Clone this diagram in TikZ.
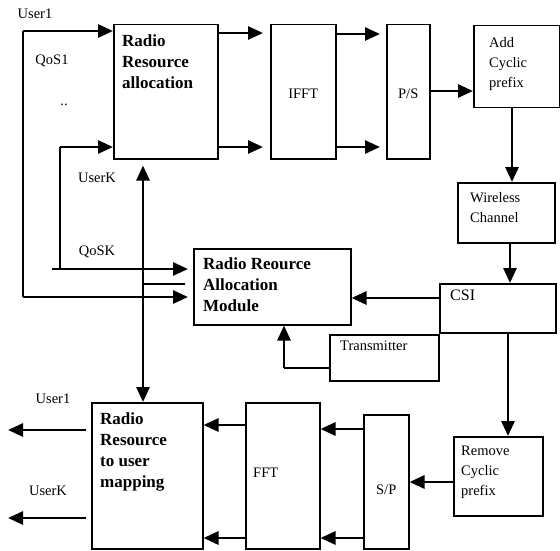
\documentclass[tikz,border=0pt]{standalone}
\usepackage{fontspec}
\setmainfont{Liberation Serif}
\usetikzlibrary{arrows.meta,positioning}

\tikzset{
  blk/.style={draw, line width=1.5pt, inner sep=0pt, anchor=north west},
  btxt/.style={font=\fontsize{17}{21}\selectfont\bfseries, align=left,
    inner sep=0pt, anchor=north west},
  ntxt/.style={font=\fontsize{14.5}{20}\selectfont, align=left, inner sep=0pt},
  arr/.style={line width=2.8pt, -{Triangle[length=15pt,width=13pt]}},
  darr/.style={line width=2.8pt,
    {Triangle[length=15pt,width=13pt]}-{Triangle[length=15pt,width=13pt]}},
  wire/.style={line width=1.6pt}
}

\begin{document}
\begin{tikzpicture}[x=1pt, y=-1pt]
  \useasboundingbox (0,0) rectangle (560,551);
  % blocks
  \node[blk, minimum width=104pt, minimum height=134pt] (rra) at (113,24) {};
  \node[blk, minimum width=65pt, minimum height=134pt] (ifft) at (270,24) {};
  \node[blk, minimum width=43pt, minimum height=134pt] (ps) at (386,24) {};
  \node[blk, minimum width=86pt, minimum height=82pt] (addcp) at (473,25) {};
  \node[blk, minimum width=97pt, minimum height=60pt] (wch) at (457,182) {};
  \node[blk, minimum width=116pt, minimum height=49pt] (csi) at (439,283) {};
  \node[blk, minimum width=109pt, minimum height=46pt] (trans) at (329,334) {};
  \node[blk, minimum width=157pt, minimum height=76pt] (rram) at (193,248) {};
  \node[blk, minimum width=111pt, minimum height=146pt] (rrum) at (91,402) {};
  \node[blk, minimum width=74pt, minimum height=146pt] (fft) at (245,402) {};
  \node[blk, minimum width=45pt, minimum height=134pt] (sp) at (363,414) {};
  \node[blk, minimum width=89pt, minimum height=79pt] (remcp) at (453,436) {};
  % block texts
  \node[btxt] (rra-t) at ([shift={(9pt,-11pt)}]rra.north west)
    {Radio\\Resource\\allocation};
  \node[btxt] (rram-t) at ([shift={(10pt,-10pt)}]rram.north west)
    {Radio Reource\\Allocation\\Module};
  \node[btxt] (rrum-t) at ([shift={(9pt,-11pt)}]rrum.north west)
    {Radio\\Resource\\to user\\mapping};
  \node[ntxt, anchor=north west] (addcp-t) at ([shift={(16pt,-12pt)}]addcp.north west)
    {Add\\Cyclic\\prefix};
  \node[ntxt, anchor=north west] (wch-t) at ([shift={(13pt,-10pt)}]wch.north west)
    {Wireless\\Channel};
  \node[ntxt, anchor=north west] (remcp-t) at ([shift={(8pt,-10pt)}]remcp.north west)
    {Remove\\Cyclic\\prefix};
  \node[ntxt, anchor=north west] (trans-t) at ([shift={(11pt,-7pt)}]trans.north west)
    {Transmitter};
  \node[ntxt, anchor=north west, font=\fontsize{16}{20}\selectfont] (csi-t)
    at ([shift={(11pt,-7pt)}]csi.north west) {CSI};
  \node[ntxt] (ifft-t) at ([yshift=-2pt]ifft.center) {IFFT};
  \node[ntxt] (ps-t) at ([yshift=-2pt]ps.center) {P/S};
  \node[ntxt, anchor=west] (fft-t) at ([shift={(8pt,3pt)}]fft.west) {FFT};
  \node[ntxt] (sp-t) at ([yshift=-8pt]sp.center) {S/P};
  % labels
  \node[ntxt] (l-u1) at (35,14) {User1};
  \node[ntxt] (l-q1) at (52,61) {QoS1};
  \node[ntxt] (l-dots) at (64,105) {..};
  \node[ntxt] (l-uk) at (97,178) {UserK};
  \node[ntxt] (l-qk) at (97,252) {QoSK};
  \node[ntxt] (l-o1) at (53,399) {User1};
  \node[ntxt] (l-ok) at (48,491) {UserK};
  % user inputs
  \coordinate (u1) at (23,31);
  \coordinate (uk) at (60,147);
  \draw[arr] (u1) -- (u1 -| rra.west);
  \draw[wire] (u1) -- (23,297) coordinate (u1m);
  \draw[arr, shorten >=5pt] (u1m) -- (u1m -| rram.west);
  \draw[arr] (uk) -- (uk -| rra.west);
  \draw[wire] (uk) -- (60,269);
  \coordinate (ukm) at (52,269);
  \draw[arr, shorten >=5pt] (ukm) -- (ukm -| rram.west);
  \coordinate (st) at (143,284);
  \draw[wire] (st) -- ([xshift=-8pt]st -| rram.west);
  \draw[darr] ([yshift=-6pt]rra.south -| st) -- (rrum.north -| st);
  % transmit chain
  \foreach \yy in {33,147}
    \draw[arr, shorten >=7pt] (rra.east |- 0,\yy) -- (ifft.west |- 0,\yy);
  \foreach \yy in {34,147}
    \draw[arr, shorten >=6pt] (ifft.east |- 0,\yy) -- (ps.west |- 0,\yy);
  \draw[arr] (ps.east |- 0,91) -- (addcp.west |- 0,91);
  \draw[arr] (addcp.south -| 512,0) -- (wch.north -| 512,0);
  \draw[arr] (wch.south -| 510,0) -- (csi.north -| 510,0);
  \draw[arr] (csi.west |- 0,298) -- (rram.east |- 0,298);
  \draw[wire] (trans.west |- 0,368) -- (284,368) coordinate (tc);
  \draw[arr] (tc) -- (tc |- rram.south);
  % receive chain
  \draw[arr] (csi.south -| 508,0) -- (remcp.north -| 508,0);
  \draw[arr] (remcp.west |- 0,482) -- (sp.east |- 0,482);
  \foreach \yy in {429,538}
    \draw[arr] (sp.west |- 0,\yy) -- (fft.east |- 0,\yy);
  \foreach \yy in {425,538}
    \draw[arr] (fft.west |- 0,\yy) -- (rrum.east |- 0,\yy);
  \coordinate (o1) at (8,430);
  \coordinate (ok) at (8,518);
  \draw[arr] ([xshift=-5pt]rrum.west |- o1) -- (o1);
  \draw[arr] ([xshift=-5pt]rrum.west |- ok) -- (ok);
\end{tikzpicture}
\end{document}
